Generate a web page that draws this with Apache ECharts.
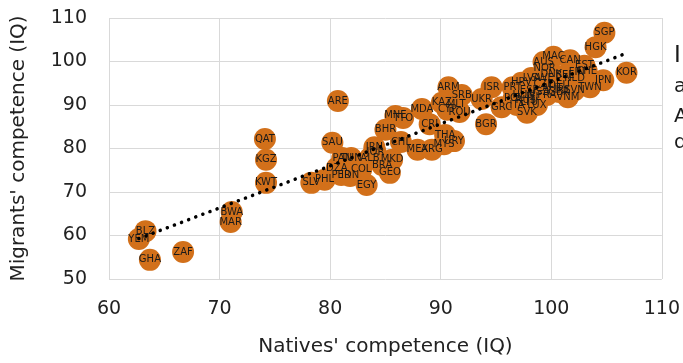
<!DOCTYPE html>
<html>
<head>
<meta charset="utf-8">
<script src="https://cdn.jsdelivr.net/npm/echarts@6/dist/echarts.min.js"></script>
<style>
  html, body { margin: 0; padding: 0; background: #fff; }
  #chart { width: 683px; height: 363px; }
</style>
</head>
<body>
<div id="chart"></div>
<script>
const countries = [
  'SGP', 'HGK', 'KOR', 'MAC', 'AUS', 'CAN', 'EST', 'CHE', 'FIN', 'NLD',
  'JPN', 'TWN', 'NOR', 'DNK', 'SWE', 'BEL', 'DEU', 'AUT', 'CZE', 'GBR',
  'USA', 'FRA', 'VNM', 'SVN', 'LVA', 'HRV', 'PRT', 'ESP', 'HUN', 'POL',
  'RUS', 'ITA', 'LTU', 'ISL', 'IRL', 'LUX', 'SVK', 'GRC', 'ISR', 'UKR',
  'BGR', 'ARM', 'SRB', 'KAZ', 'MLT', 'CYP', 'ROU', 'MDA', 'MNE', 'TTO',
  'CRI', 'BHR', 'CHL', 'THA', 'MEX', 'ARG', 'MYS', 'URY', 'IRN', 'JOR',
  'ALB', 'MKD', 'BRA', 'GEO', 'EGY', 'SAU', 'PAN', 'TUN', 'PER', 'COL',
  'DZA', 'IDN', 'SLV', 'PHL', 'ARE', 'QAT', 'KGZ', 'KWT', 'BWA', 'MAR',
  'BLZ', 'YEM', 'GHA', 'ZAF'
];
const nativesIQ = [
  104.8, 104.0, 106.8, 100.2, 99.3, 101.7, 103.0, 103.2, 102.3, 102.1,
  104.7, 103.5, 99.4, 100.0, 99.2, 101.2, 100.7, 100.1, 99.3, 100.7,
  98.9, 99.6, 101.5, 102.1, 98.2, 97.3, 96.5, 98.0, 97.5, 96.6,
  97.7, 96.9, 98.0, 98.4, 101.0, 98.7, 97.8, 95.5, 94.6, 93.7,
  94.1, 90.7, 91.9, 90.1, 91.4, 90.6, 91.7, 88.3, 85.9, 86.6,
  89.0, 85.0, 86.4, 90.4, 87.9, 89.2, 90.3, 91.2, 84.0, 84.1,
  83.6, 85.6, 84.7, 85.4, 83.3, 80.2, 81.1, 81.9, 81.0, 82.8,
  80.6, 81.8, 78.3, 79.5, 80.7, 74.1, 74.2, 74.2, 71.1, 71.0,
  63.3, 62.7, 63.7, 66.7
];
const migrantsIQ = [
  106.6, 103.3, 97.4, 101.1, 99.9, 100.3, 99.0, 97.8, 97.6, 96.2,
  95.7, 94.1, 98.5, 97.1, 96.2, 96.7, 94.6, 93.9, 94.8, 93.0,
  93.0, 92.3, 91.8, 93.4, 96.2, 95.1, 94.1, 93.4, 92.3, 91.6,
  91.1, 90.0, 90.5, 91.8, 93.4, 90.0, 88.2, 89.5, 94.1, 91.4,
  85.6, 94.1, 92.3, 90.5, 90.2, 88.9, 88.4, 89.1, 87.5, 87.0,
  85.6, 84.3, 81.5, 83.1, 79.7, 79.7, 81.0, 81.7, 80.3, 79.2,
  77.8, 77.4, 76.2, 74.4, 71.6, 81.3, 77.8, 77.8, 73.9, 75.1,
  75.5, 73.7, 72.1, 72.8, 90.9, 82.2, 77.4, 72.1, 65.4, 63.1,
  61.0, 59.2, 54.4, 56.2
];
// dotted linear trend, end points
const trendX = [62.7, 106.8];
const trendY = [59.3, 101.9];
const xTicks = [60, 110, 10];
const yTicks = [50, 110, 10];
const sideText = ['I', 'a', 'A', 'd'];

const points = countries.map((name, i) => ({ name, value: [nativesIQ[i], migrantsIQ[i]] }));
const trend = trendX.map((x, i) => [x, trendY[i]]);

const chart = echarts.init(document.getElementById('chart'));
const fontFamily = '"DejaVu Sans", Verdana, sans-serif';
const grid = '#d9d9d9';

chart.setOption({
  animation: false,
  textStyle: { fontFamily },
  grid: { left: 109, right: 20, top: 18, bottom: 84 },
  xAxis: {
    type: 'value',
    min: xTicks[0],
    max: xTicks[1],
    interval: xTicks[2],
    name: "Natives' competence (IQ)",
    nameLocation: 'middle',
    nameGap: 58,
    nameTextStyle: { fontSize: 20, color: '#222', fontFamily },
    axisLine: { show: false },
    axisTick: { show: false },
    axisLabel: { fontSize: 19, color: '#222', margin: 21, fontFamily },
    splitLine: { lineStyle: { color: grid, width: 1 } }
  },
  yAxis: {
    type: 'value',
    min: yTicks[0],
    max: yTicks[1],
    interval: yTicks[2],
    name: "Migrants' competence (IQ)",
    nameLocation: 'middle',
    nameGap: 80,
    nameTextStyle: { fontSize: 20, color: '#222', fontFamily },
    axisLine: { show: false },
    axisTick: { show: false },
    axisLabel: { fontSize: 19, color: '#222', margin: 22, fontFamily },
    splitLine: { lineStyle: { color: grid, width: 1 } }
  },
  series: [
    {
      name: 'countries',
      type: 'scatter',
      symbol: 'circle',
      symbolSize: 22,
      itemStyle: { color: '#d2701a', opacity: 1 },
      label: {
        show: true,
        position: 'inside',
        formatter: (p) => p.name,
        fontSize: 10,
        color: '#1a1a1a',
        fontFamily
      },
      emphasis: { disabled: true },
      data: points,
      z: 2
    },
    {
      name: 'trend',
      type: 'line',
      showSymbol: false,
      silent: true,
      lineStyle: { color: '#000', width: 3.5, type: [0.1, 7.5], cap: 'round' },
      data: trend,
      z: 3
    }
  ],
  graphic: sideText.map((t, i) => ({
    type: 'text',
    left: 674,
    top: [45, 77, 107, 133][i],
    style: { text: t, fontSize: i === 0 ? 23 : 20, fill: '#1a1a1a', fontFamily }
  }))
});
</script>
</body>
</html>
